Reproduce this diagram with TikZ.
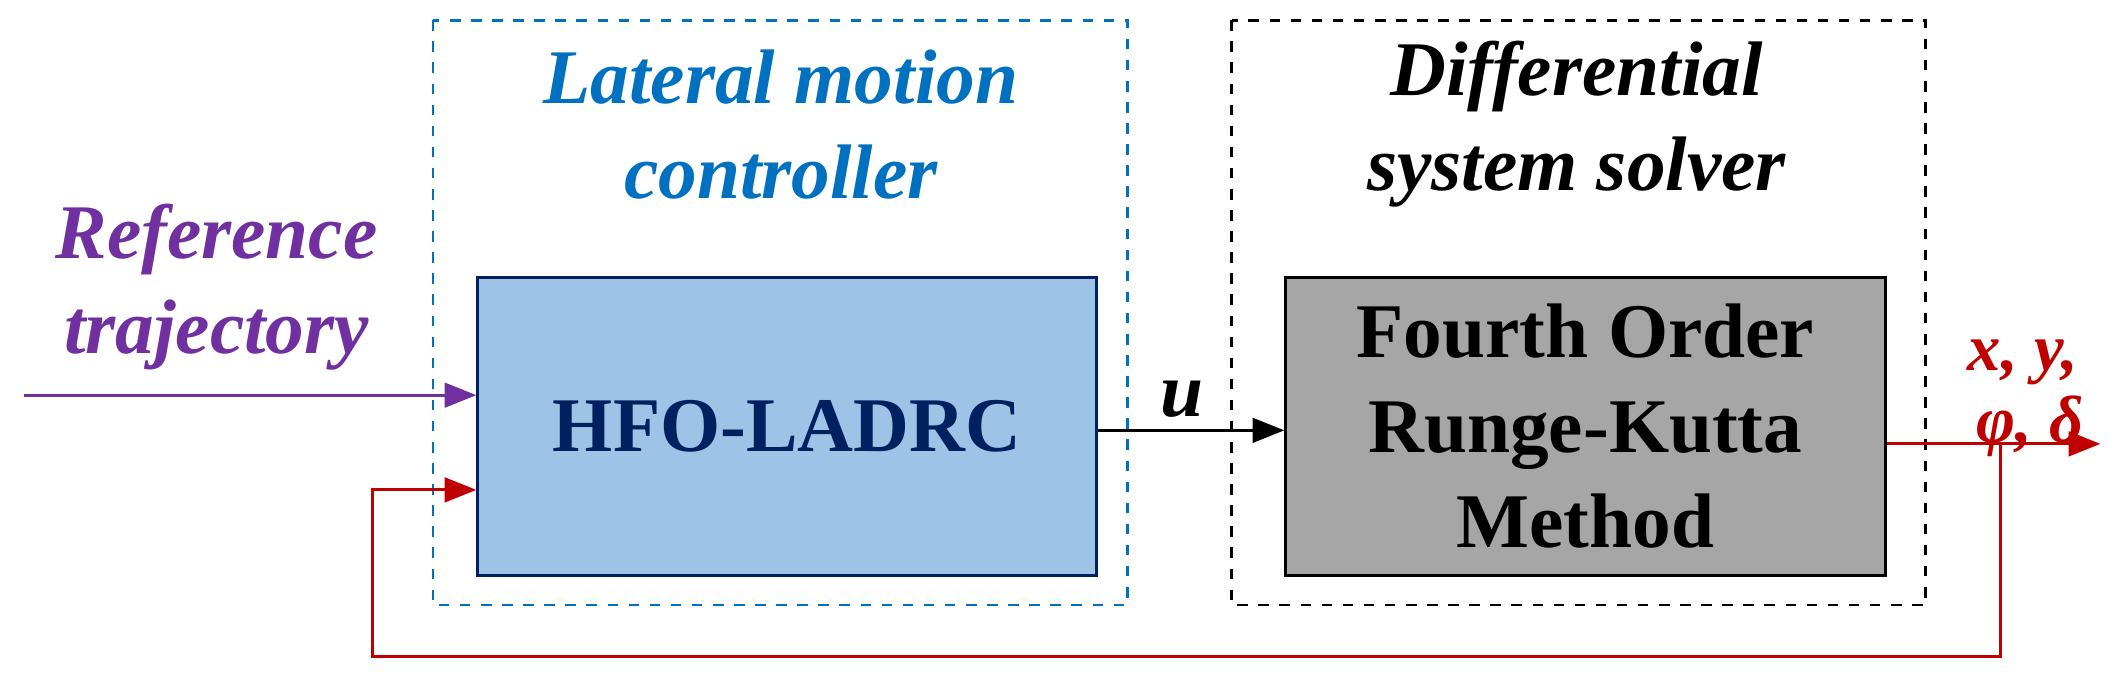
\documentclass[tikz,border=0pt]{standalone}
\usepackage{fontspec}
\setmainfont{Liberation Serif}
\usetikzlibrary{arrows.meta}
\definecolor{cblue}{HTML}{0070C0}
\definecolor{cpurple}{HTML}{7030A0}
\definecolor{cred}{HTML}{C00000}
\definecolor{cfill}{HTML}{9DC3E6}
\definecolor{cnavy}{HTML}{002060}
\definecolor{cgray}{HTML}{A6A6A6}
\begin{document}
\begin{tikzpicture}[x=0.01353cm,y=-0.01353cm,
  lbl/.style={font=\fontsize{22}{27}\selectfont\bfseries\itshape,align=center},
  olbl/.style={font=\fontsize{19}{23}\selectfont\bfseries\itshape,align=center,text=cred,inner sep=1pt},
  blk/.style={font=\fontsize{22}{27}\selectfont\bfseries,align=center,line width=0.8pt},
  arr/.style={line width=0.8pt,-{Triangle[length=9pt,width=7pt]}}]
\useasboundingbox (0,0) rectangle (1568,502.6);
\draw[cblue,dashed,line width=0.8pt] (320,15) rectangle (833,447);
\draw[black,dashed,line width=0.8pt] (910,15) rectangle (1423,447);
\node[blk,draw=cnavy,fill=cfill,text=cnavy,minimum width=457*0.01353cm,minimum height=220*0.01353cm] (hfo) at (581.5,315) {HFO-LADRC};
\node[blk,draw=black,fill=cgray,minimum width=443*0.01353cm,minimum height=220*0.01353cm] (rk) at (1171.5,315) {Fourth Order\\Runge-Kutta\\Method};
\node[lbl,text=cblue] (t1) at (577,92) {Lateral motion\\controller};
\node[lbl] (t2) at (1165,92) {Differential\\system solver};
\node[lbl,text=cpurple] (t3) at (160,212) {Reference\\trajectory};
\coordinate (pin) at (18,292);
\draw[arr,cpurple] (pin) -- (pin -| hfo.west);
\draw[arr] (hfo.east |- 0,318) -- (rk.west |- 0,318) node[pos=0.45,above,lbl]{u};
\coordinate (out) at (1552,328);
\coordinate (tap) at (1478,328);
\draw[arr,cred] (rk.east |- out) -- (out);
\node[olbl] (o1) at (1495,268) {x, y,};
\node[olbl] (o2) at (1500,315) {φ, δ};
\draw[arr,cred] (tap) -- (1478,485) -- (275,485) -- (275,362) -- (hfo.west |- 0,362);
\end{tikzpicture}
\end{document}
